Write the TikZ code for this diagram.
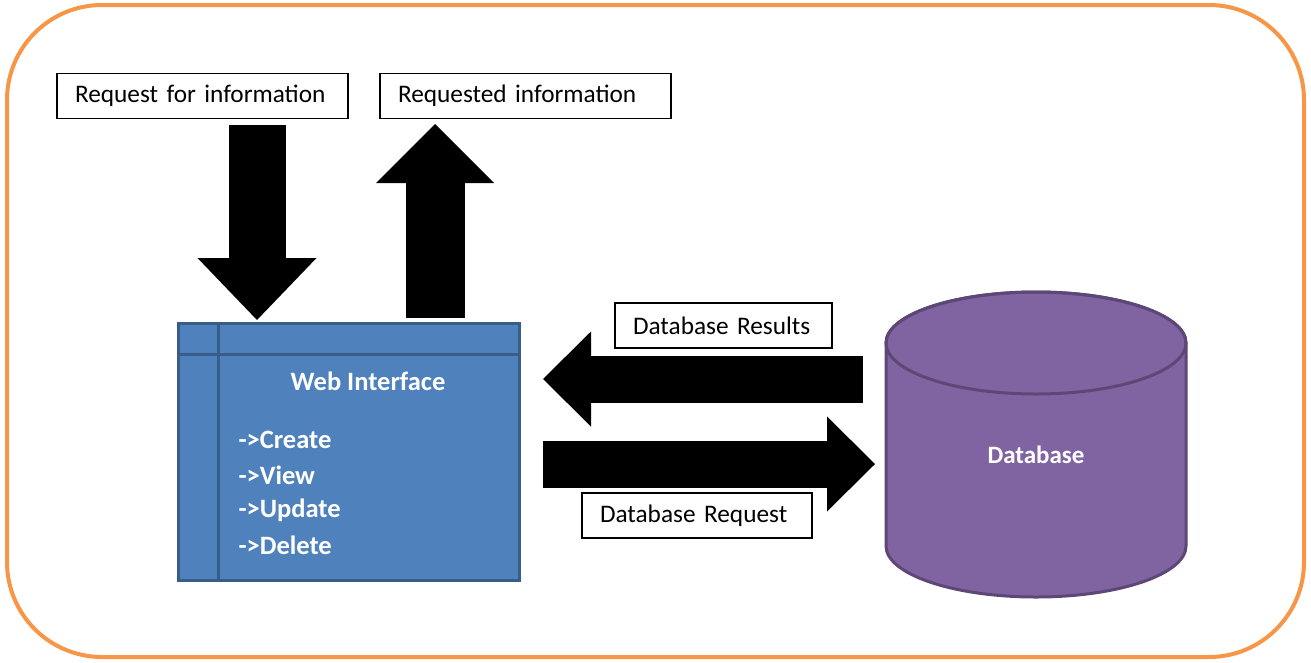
\documentclass[tikz,border=0pt]{standalone}
\usepackage{fontspec}
\setmainfont{Carlito}
\usetikzlibrary{arrows.meta}

\definecolor{frameorange}{HTML}{F79646}
\definecolor{webblue}{HTML}{4F81BD}
\definecolor{webedge}{HTML}{385D8A}
\definecolor{dbpurple}{HTML}{8064A2}
\definecolor{dbedge}{HTML}{5C4776}

\tikzset{
  labelbox/.style={draw, line width=1.5pt, fill=white, inner xsep=18pt, inner ysep=0pt,
                   minimum height=45pt, align=left, font=\fontsize{25.3}{30}\selectfont},
  whitetext/.style={text=white, font=\fontsize{26.5}{31}\selectfont\bfseries},
  blockarrow/.style n args={3}{line width=#1, -{Triangle[length=#2, width=#3, line width=0pt]}},
}

\begin{document}
\begin{tikzpicture}[x=1pt, y=-1pt]
  \useasboundingbox (0,0) rectangle (1311,662);

  % outer frame
  \draw[frameorange, line width=4pt, rounded corners=95pt] (7,5) rectangle (1304,657);

  % text labels
  \node[labelbox, text width=255pt] (reqin) at (202.5,96) {Request for information};
  \node[labelbox, text width=255pt] (reqout) at (525.5,96) {Requested information};
  \node[labelbox, text width=181pt] (dbres) at (723.5,325.5) {Database Results};
  \node[labelbox, text width=194pt] (dbreq) at (697,515.5) {Database Request};

  % web interface window
  \node[fill=webblue, draw=webedge, line width=3pt, minimum width=341pt, minimum height=257pt]
       (webif) at (348.5,452) {};
  \draw[webedge, line width=3pt] ([xshift=41.5pt]webif.north west) -- ([xshift=41.5pt]webif.south west);
  \draw[webedge, line width=3pt] ([yshift=-32.5pt]webif.north west) -- ([yshift=-32.5pt]webif.north east);
  \node[whitetext] (webtitle) at (368,381) {Web Interface};
  \foreach \op [count=\i] in {Create,View,Update,Delete}
    \node[whitetext, anchor=west] (op\i) at (235,405+35*\i) {->\op};

  % database cylinder
  \filldraw[fill=dbpurple, draw=dbedge, line width=3pt]
    (886,343) -- (886,546) arc[start angle=180, end angle=0, x radius=150, y radius=51]
    -- (1186,343) arc[start angle=0, end angle=-180, x radius=150, y radius=51] -- cycle;
  \draw[dbedge, line width=3pt] (1036,343) ellipse[x radius=150, y radius=51];
  \node[whitetext, font=\fontsize{25}{30}\selectfont\bfseries] (db) at (1036,455) {Database};

  % arrow ends
  \coordinate (askfrom) at (257,125);
  \coordinate (askto) at (257,320);
  \coordinate (answerfrom) at (435,318);
  \coordinate (answerto) at (435,124);
  \coordinate (resultfrom) at (863,379);
  \coordinate (resultto) at (543,379);
  \coordinate (queryfrom) at (543,464);
  \coordinate (queryto) at (875,464);

  % block arrows
  \draw[blockarrow={57pt}{62pt}{119pt}] (askfrom) -- (askto);
  \draw[blockarrow={59pt}{59pt}{118pt}] (answerfrom) -- (answerto);
  \draw[blockarrow={47pt}{48pt}{95pt}] (resultfrom) -- (resultto);
  \draw[blockarrow={47pt}{48pt}{95pt}] (queryfrom) -- (queryto);
\end{tikzpicture}
\end{document}
